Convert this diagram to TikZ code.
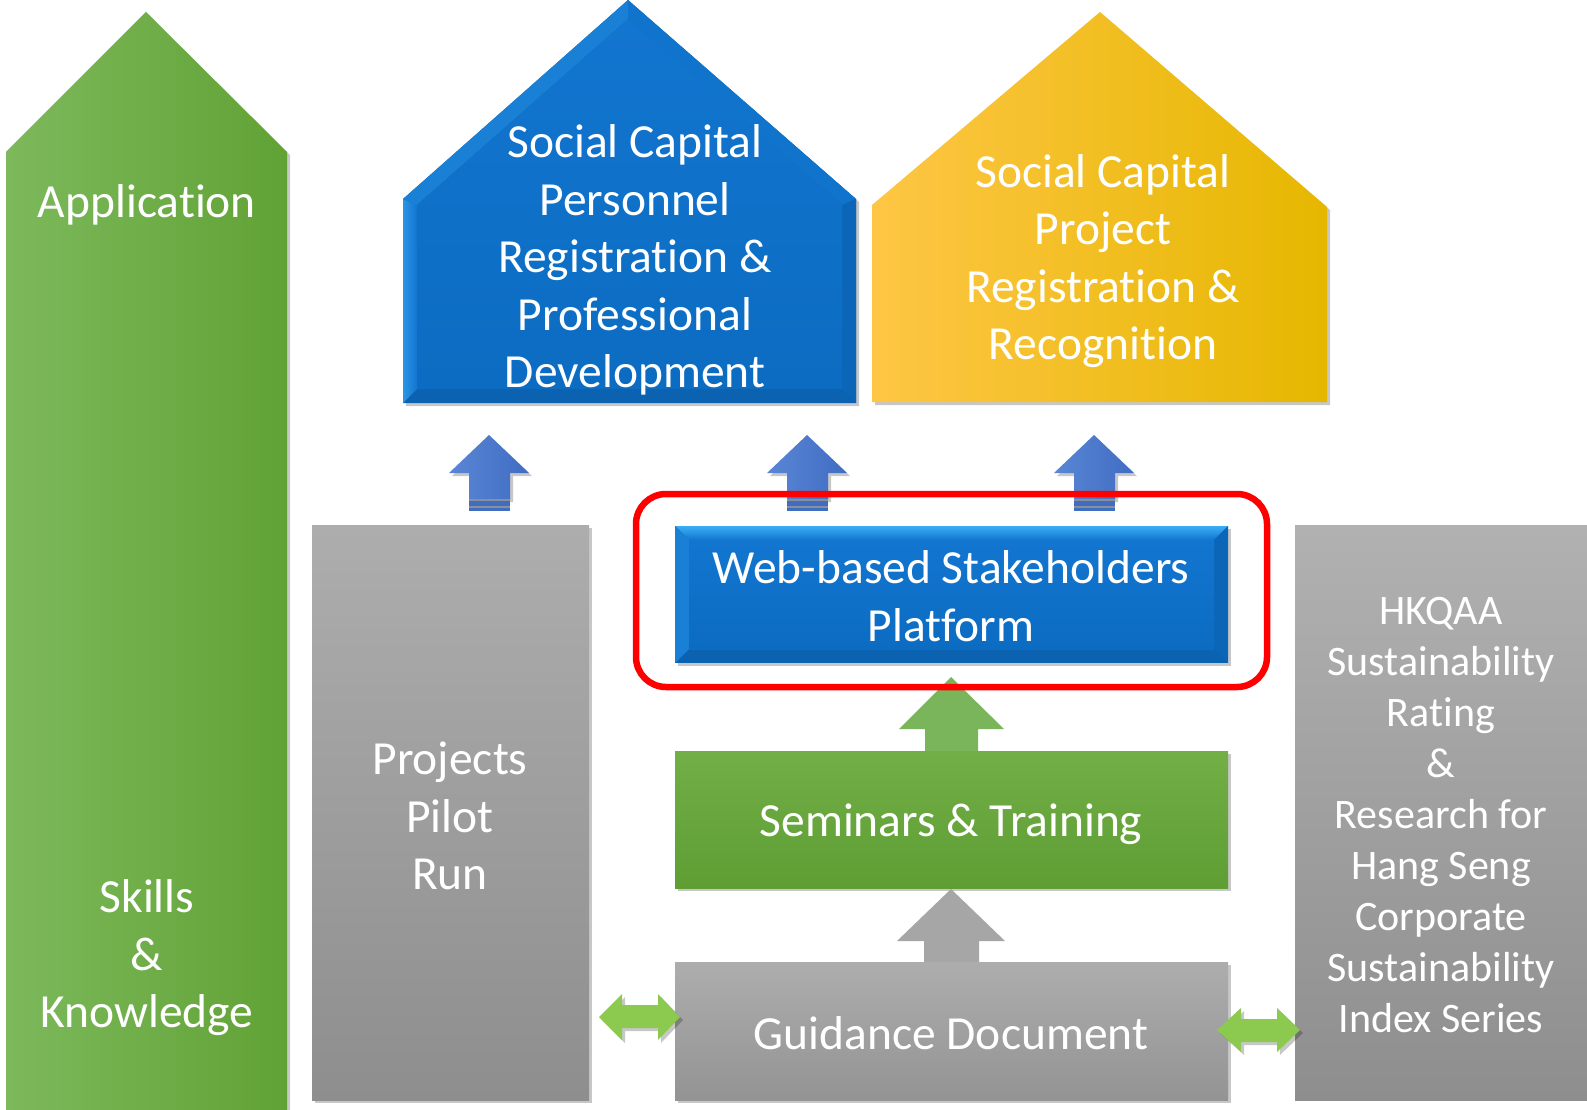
\documentclass[tikz,border=0pt]{standalone}
\usepackage{fontspec}
\setmainfont{Carlito}[Ligatures=NoCommon]
\usetikzlibrary{shadows}
\definecolor{appL}{HTML}{7DB95C}
\definecolor{appR}{HTML}{61A235}
\definecolor{bDark}{HTML}{0B62B0}
\definecolor{bMain}{HTML}{1275CF}
\definecolor{bMainB}{HTML}{0C6CC2}
\definecolor{bLight}{HTML}{2C95E6}
\definecolor{bTopL}{HTML}{1A80D6}
\definecolor{bTopR}{HTML}{1174CC}
\definecolor{bRight}{HTML}{0B66B8}
\definecolor{bCyan}{HTML}{3CAEF5}
\definecolor{yL}{HTML}{FEC645}
\definecolor{yR}{HTML}{E6B700}
\definecolor{gTop}{HTML}{ADADAD}
\definecolor{gBot}{HTML}{8E8E8E}
\definecolor{sTop}{HTML}{72AF47}
\definecolor{sBot}{HTML}{5E9E33}
\definecolor{upG}{HTML}{7AB55C}
\definecolor{upGray}{HTML}{A6A6A6}
\definecolor{arrL}{HTML}{5B86D6}
\definecolor{arrR}{HTML}{3F6DC2}
\definecolor{stripe}{HTML}{8A8F99}
\definecolor{dbl}{HTML}{8BC94F}
\definecolor{frame}{HTML}{FF0000}
\tikzset{
  lbl/.style={text=white,align=center,inner sep=0pt,font=\fontsize{47.5}{57.5}\selectfont},
  lblsm/.style={text=white,align=center,inner sep=0pt,font=\fontsize{42}{51}\selectfont},
  shad/.style={drop shadow={shadow xshift=3pt,shadow yshift=-3pt,opacity=0.22,fill=black}},
  blueup/.pic={
    \shade[shad,left color=arrL,right color=arrR]
      (-40,38) -- (0,0) -- (40,38) -- (21,38) -- (21,64) -- (-20,64) -- (-20,38) -- cycle;
    \fill[stripe] (-20,64) rectangle (21,66);
    \fill[arrR] (-20,66) rectangle (21,71);
    \fill[stripe] (-20,71) rectangle (21,72.5);
    \fill[arrR] (-20,72.5) rectangle (21,76);
  }
}
\begin{document}
\begin{tikzpicture}[x=1pt,y=-1pt]
\useasboundingbox (0,0) rectangle (1587,1110);
\fill[white] (0,0) rectangle (1587,1110);

% Application / Skills arrow
\shade[shad,left color=appL,right color=appR]
  (6,1112) -- (6,152) -- (146,12) -- (287,152) -- (287,1112) -- cycle;

% Blue house with bevel
\fill[shad,bDark] (403,403) -- (403,199) -- (628,0) -- (856,199) -- (856,403) -- cycle;
\shade[left color=bLight,right color=bMain] (403,403) -- (403,199) -- (417,205) -- (417,389) -- cycle;
\fill[bTopL] (403,199) -- (628,0) -- (628,19) -- (417,205) -- cycle;
\fill[bTopR] (628,0) -- (856,199) -- (842,205) -- (628,19) -- cycle;
\fill[bRight] (856,199) -- (856,403) -- (842,389) -- (842,205) -- cycle;
\shade[top color=bMain,bottom color=bMainB] (417,389) -- (417,205) -- (628,19) -- (842,205) -- (842,389) -- cycle;

% Yellow house
\shade[shad,left color=yL,right color=yR]
  (872,402) -- (872,205) -- (1100,12) -- (1327,207) -- (1327,402) -- cycle;

% Gray side boxes
\shade[shad,top color=gTop,bottom color=gBot] (312,525) rectangle (589,1100);
\shade[top color=gTop!95!white,bottom color=gBot] (1295,525) rectangle (1590,1100);

% Web-based platform box with bevel
\fill[shad,bDark] (675,526) rectangle (1228,663);
\shade[top color=bCyan,bottom color=bMain] (675,526) -- (1228,526) -- (1214,540) -- (689,540) -- cycle;
\fill[bTopL] (675,526) -- (689,540) -- (689,649) -- (675,663) -- cycle;
\fill[bRight] (1228,526) -- (1228,663) -- (1214,649) -- (1214,540) -- cycle;
\shade[top color=bMain,bottom color=bMainB] (689,540) rectangle (1214,649);

% Green up arrow
\fill[upG] (951,677) -- (1004,729) -- (978,729) -- (978,752) -- (925,752) -- (925,729) -- (899,729) -- cycle;

% Seminars box
\shade[shad,top color=sTop,bottom color=sBot] (675,751) rectangle (1228,888);

% Gray up arrow
\fill[upGray] (951,889) -- (1005,941) -- (979,941) -- (979,963) -- (924,963) -- (924,941) -- (897,941) -- cycle;

% Guidance box
\shade[shad,top color=gTop,bottom color=gBot!95!white] (675,962) rectangle (1228,1100);

% Blue arrows
\pic at (489,435) {blueup};
\pic at (807,435) {blueup};
\pic at (1094,435) {blueup};

% Double arrows
\fill[shad,dbl] (599,1017) -- (622,994) -- (622,1005) -- (658,1005) -- (658,994) -- (680,1017)
  -- (658,1040) -- (658,1028) -- (622,1028) -- (622,1040) -- cycle;
\fill[shad,dbl] (1217,1030) -- (1241,1008) -- (1241,1019) -- (1277,1019) -- (1277,1008) -- (1300,1030)
  -- (1277,1052) -- (1277,1042) -- (1241,1042) -- (1241,1052) -- cycle;

% Red frame
\draw[frame,line width=6.5,rounded corners=30] (636,494) rectangle (1267,687);

% Labels
\node[lbl] (app) at (147,205) {Application};
\node[lbl] (skills) at (147,958) {Skills\\\&\\Knowledge};
\node[lbl] (personnel) at (635,260) {Social Capital\\Personnel\\Registration \&\\Professional\\Development};
\node[lbl] (project) at (1103,261) {Social Capital\\Project\\Registration \&\\Recognition};
\node[lbl] (pilot) at (450,816) {Projects\\Pilot\\Run};
\node[lbl] (web) at (951,596) {Web-based Stakeholders\\Platform};
\node[lbl] (seminars) at (951,824) {Seminars \& Training};
\node[lbl] (guidance) at (951,1033) {Guidance Document};
\node[lblsm] (hkqaa) at (1441,815) {HKQAA\\Sustainability\\Rating\\\&\\Research for\\Hang Seng\\Corporate\\Sustainability\\Index Series};
\end{tikzpicture}
\end{document}
